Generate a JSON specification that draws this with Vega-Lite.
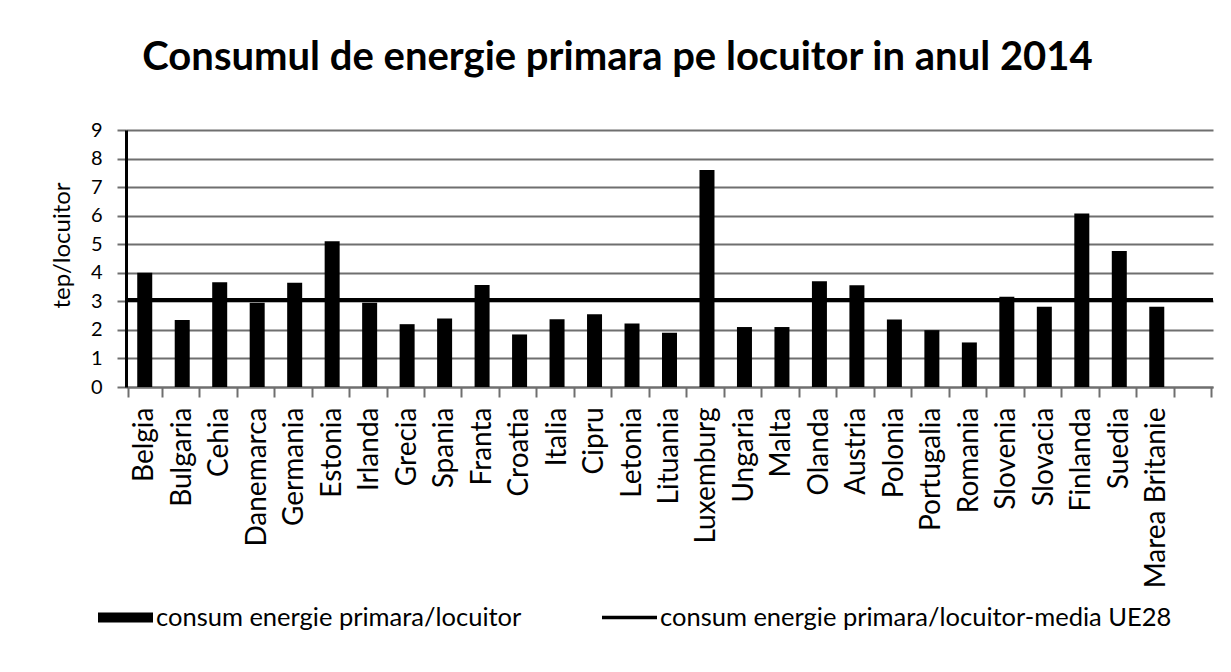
{
  "$schema": "https://vega.github.io/schema/vega-lite/v6.json",
  "width": 1087,
  "height": 257,
  "autosize": "none",
  "padding": {"left": 126, "top": 130, "right": 18, "bottom": 285},
  "background": "white",
  "config": {"view": {"stroke": null}},
  "title": {
    "text": "Consumul de energie primara pe locuitor in anul 2014",
    "font": "Lato",
    "fontSize": 40,
    "fontWeight": "bold",
    "color": "black",
    "anchor": "middle",
    "frame": "group",
    "dx": -52,
    "offset": 42
  },
  "datasets": {
    "tari": [
      {"tara": "Belgia", "valoare": 4.0, "serie": "consum energie primara/locuitor"},
      {"tara": "Bulgaria", "valoare": 2.35, "serie": "consum energie primara/locuitor"},
      {"tara": "Cehia", "valoare": 3.67, "serie": "consum energie primara/locuitor"},
      {"tara": "Danemarca", "valoare": 2.95, "serie": "consum energie primara/locuitor"},
      {"tara": "Germania", "valoare": 3.65, "serie": "consum energie primara/locuitor"},
      {"tara": "Estonia", "valoare": 5.1, "serie": "consum energie primara/locuitor"},
      {"tara": "Irlanda", "valoare": 2.95, "serie": "consum energie primara/locuitor"},
      {"tara": "Grecia", "valoare": 2.2, "serie": "consum energie primara/locuitor"},
      {"tara": "Spania", "valoare": 2.4, "serie": "consum energie primara/locuitor"},
      {"tara": "Franta", "valoare": 3.57, "serie": "consum energie primara/locuitor"},
      {"tara": "Croatia", "valoare": 1.84, "serie": "consum energie primara/locuitor"},
      {"tara": "Italia", "valoare": 2.37, "serie": "consum energie primara/locuitor"},
      {"tara": "Cipru", "valoare": 2.55, "serie": "consum energie primara/locuitor"},
      {"tara": "Letonia", "valoare": 2.22, "serie": "consum energie primara/locuitor"},
      {"tara": "Lituania", "valoare": 1.9, "serie": "consum energie primara/locuitor"},
      {"tara": "Luxemburg", "valoare": 7.6, "serie": "consum energie primara/locuitor"},
      {"tara": "Ungaria", "valoare": 2.1, "serie": "consum energie primara/locuitor"},
      {"tara": "Malta", "valoare": 2.1, "serie": "consum energie primara/locuitor"},
      {"tara": "Olanda", "valoare": 3.7, "serie": "consum energie primara/locuitor"},
      {"tara": "Austria", "valoare": 3.56, "serie": "consum energie primara/locuitor"},
      {"tara": "Polonia", "valoare": 2.36, "serie": "consum energie primara/locuitor"},
      {"tara": "Portugalia", "valoare": 1.99, "serie": "consum energie primara/locuitor"},
      {"tara": "Romania", "valoare": 1.56, "serie": "consum energie primara/locuitor"},
      {"tara": "Slovenia", "valoare": 3.16, "serie": "consum energie primara/locuitor"},
      {"tara": "Slovacia", "valoare": 2.81, "serie": "consum energie primara/locuitor"},
      {"tara": "Finlanda", "valoare": 6.08, "serie": "consum energie primara/locuitor"},
      {"tara": "Suedia", "valoare": 4.76, "serie": "consum energie primara/locuitor"},
      {"tara": "Marea Britanie", "valoare": 2.81, "serie": "consum energie primara/locuitor"}
    ],
    "medie": [
      {"serie": "consum energie primara/locuitor-media UE28", "valoare": 3.05}
    ]
  },
  "encoding": {
    "y": {
      "field": "valoare",
      "type": "quantitative",
      "scale": {"domain": [0, 9], "nice": false, "zero": true},
      "axis": {
        "title": "tep/locuitor",
        "values": [0, 1, 2, 3, 4, 5, 6, 7, 8, 9],
        "labelOverlap": false,
        "titleFont": "Lato",
        "titleFontSize": 24,
        "titleFontWeight": "normal",
        "titleColor": "black",
        "titlePadding": 16,
        "titleY": 115,
        "labelFont": "Lato",
        "labelFontSize": 20,
        "labelColor": "black",
        "labelPadding": 15,
        "tickSize": 9,
        "tickColor": "#6f6f6f",
        "tickWidth": 2,
        "grid": true,
        "gridColor": "#6f6f6f",
        "gridWidth": 2,
        "gridOpacity": 1,
        "domainColor": "black",
        "domainWidth": 3
      }
    },
    "color": {
      "field": "serie",
      "type": "nominal",
      "scale": {
        "domain": ["consum energie primara/locuitor", "consum energie primara/locuitor-media UE28"],
        "range": ["black", "black"]
      },
      "legend": {
        "orient": "none",
        "legendX": -28,
        "legendY": 460,
        "direction": "horizontal",
        "title": null,
        "padding": 0,
        "labelFont": "Lato",
        "labelFontSize": 25.5,
        "labelColor": "black",
        "labelLimit": 700,
        "labelOffset": 3,
        "columnPadding": 80,
        "symbolSize": 3025,
        "symbolStrokeWidth": 0,
        "symbolFillColor": "black",
        "encode": {
          "symbols": {
            "update": {
              "shape": {"signal": "datum.value === 'consum energie primara/locuitor' ? 'M-1,-0.18H1V0.18H-1Z' : 'M-1,-0.06H1V0.06H-1Z'"},
              "fill": {"value": "black"},
              "strokeWidth": {"value": 0},
              "opacity": {"value": 1}
            }
          }
        }
      }
    }
  },
  "layer": [
    {
      "data": {"name": "tari"},
      "mark": {"type": "bar", "size": 15, "color": "black"},
      "encoding": {
        "x": {
          "field": "tara",
          "type": "nominal",
          "sort": null,
          "scale": {
            "domain": ["Belgia", "Bulgaria", "Cehia", "Danemarca", "Germania", "Estonia", "Irlanda", "Grecia", "Spania", "Franta", "Croatia", "Italia", "Cipru", "Letonia", "Lituania", "Luxemburg", "Ungaria", "Malta", "Olanda", "Austria", "Polonia", "Portugalia", "Romania", "Slovenia", "Slovacia", "Finlanda", "Suedia", "Marea Britanie", ""]
          },
          "axis": {
            "title": null,
            "labelAngle": -90,
            "labelFont": "Lato",
            "labelFontSize": 28,
            "labelColor": "black",
            "labelLimit": 400,
            "labelPadding": 10,
            "tickSize": 10,
            "tickColor": "#6f6f6f",
            "tickWidth": 2,
            "tickBand": "extent",
            "domainColor": "#6f6f6f",
            "domainWidth": 2,
            "grid": false
          }
        }
      }
    },
    {
      "data": {"name": "medie"},
      "mark": {"type": "rule", "strokeWidth": 4},
      "encoding": {}
    }
  ]
}
